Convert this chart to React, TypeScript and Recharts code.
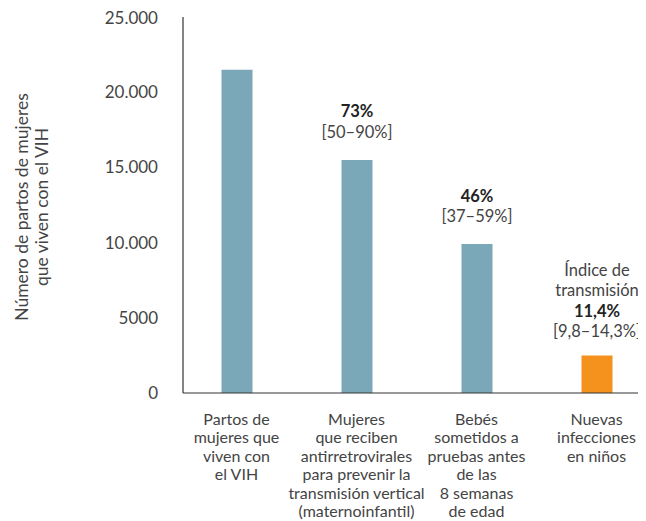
import React from "react";
import { BarChart, Bar, XAxis, YAxis, Cell, LabelList } from "recharts";

const categories = [
  "Partos de|mujeres que|viven con|el VIH",
  "Mujeres|que reciben|antirretrovirales|para prevenir la|transmisión vertical|(maternoinfantil)",
  "Bebés|sometidos a|pruebas antes|de las|8 semanas|de edad",
  "Nuevas|infecciones|en niños",
];
const births = [21500, 15500, 9900, 2500];
const barColors = ["#7aa8b8", "#7aa8b8", "#7aa8b8", "#f5921e"];
const noteHeads = ["", "", "", "Índice de|transmisión"];
const notePcts = ["", "73%", "46%", "11,4%"];
const noteRanges = ["", "[50–90%]", "[37–59%]", "[9,8–14,3%]"];
const yTicks = [0, 5000, 10000, 15000, 20000, 25000];

const data = categories.map((name, i) => ({ name, value: births[i] }));

const FONT = "Lato, 'Open Sans', sans-serif";
const TEXT = "#444";
const W = 400;

const fmtY = (v: number) => (v >= 10000 ? `${v / 1000}.000` : String(v));

function CategoryTick(props: any) {
  const { x, y, payload } = props;
  const lines = String(payload.value).split("|");
  return (
    <text x={x} y={y + 30} textAnchor="middle" fill={TEXT} fontSize={16} fontFamily={FONT} fontWeight={W}>
      {lines.map((l, i) => (
        <tspan key={i} x={x} dy={i === 0 ? 0 : 18.4}>
          {l}
        </tspan>
      ))}
    </text>
  );
}

function BarNote(props: any) {
  const { x, y, width, index } = props;
  const lines: { t: string; bold: boolean }[] = [];
  if (noteHeads[index]) noteHeads[index].split("|").forEach((t) => lines.push({ t, bold: false }));
  if (notePcts[index]) lines.push({ t: notePcts[index], bold: true });
  if (noteRanges[index]) lines.push({ t: noteRanges[index], bold: false });
  if (!lines.length) return null;
  const cx = x + width / 2;
  const gap = lines.length > 2 ? 18 : 22;
  const step = 20.5;
  const first = y - gap - step * (lines.length - 1);
  return (
    <text textAnchor="middle" fontSize={16.5} fontFamily={FONT} fill={TEXT}>
      {lines.map((l, i) => (
        <tspan key={i} x={cx} y={first + step * i} fontWeight={l.bold ? 700 : W} fill={l.bold ? "#222" : TEXT}>
          {l.t}
        </tspan>
      ))}
    </text>
  );
}

function YTitle(props: any) {
  const { viewBox } = props;
  const cy = viewBox.y + viewBox.height / 2 + 2;
  return (
    <text
      transform={`translate(20, ${cy}) rotate(-90)`}
      textAnchor="middle"
      fontSize={17.5}
      fontFamily={FONT}
      fontWeight={W}
      fill={TEXT}
    >
      <tspan x={0} dy={0}>Número de partos de mujeres</tspan>
      <tspan x={0} dy={20}>que viven con el VIH</tspan>
    </text>
  );
}

export default function App() {
  return (
    <div style={{ width: 638, height: 513, background: "#fff" }}>
      <BarChart width={638} height={513} data={data} margin={{ top: 9, right: 0, bottom: 0, left: 0 }}>
        <XAxis
          dataKey="name"
          interval={0}
          height={128}
          tickLine={false}
          tickSize={0}
          axisLine={{ stroke: "#333", strokeWidth: 1.2 }}
          padding={{ left: -6.5, right: -10.5 }}
          tick={<CategoryTick />}
        />
        <YAxis
          width={175}
          domain={[0, 25000]}
          ticks={yTicks}
          tickFormatter={fmtY}
          tickLine={false}
          tickSize={0}
          tickMargin={25}
          axisLine={{ stroke: "#333", strokeWidth: 1.2 }}
          tick={{ fill: TEXT, fontSize: 17, fontFamily: FONT, fontWeight: W }}
          label={{ content: <YTitle /> }}
        />
        <Bar dataKey="value" barSize={31} isAnimationActive={false}>
          {data.map((_, i) => (
            <Cell key={i} fill={barColors[i]} />
          ))}
          <LabelList dataKey="value" content={<BarNote />} />
        </Bar>
      </BarChart>
    </div>
  );
}
